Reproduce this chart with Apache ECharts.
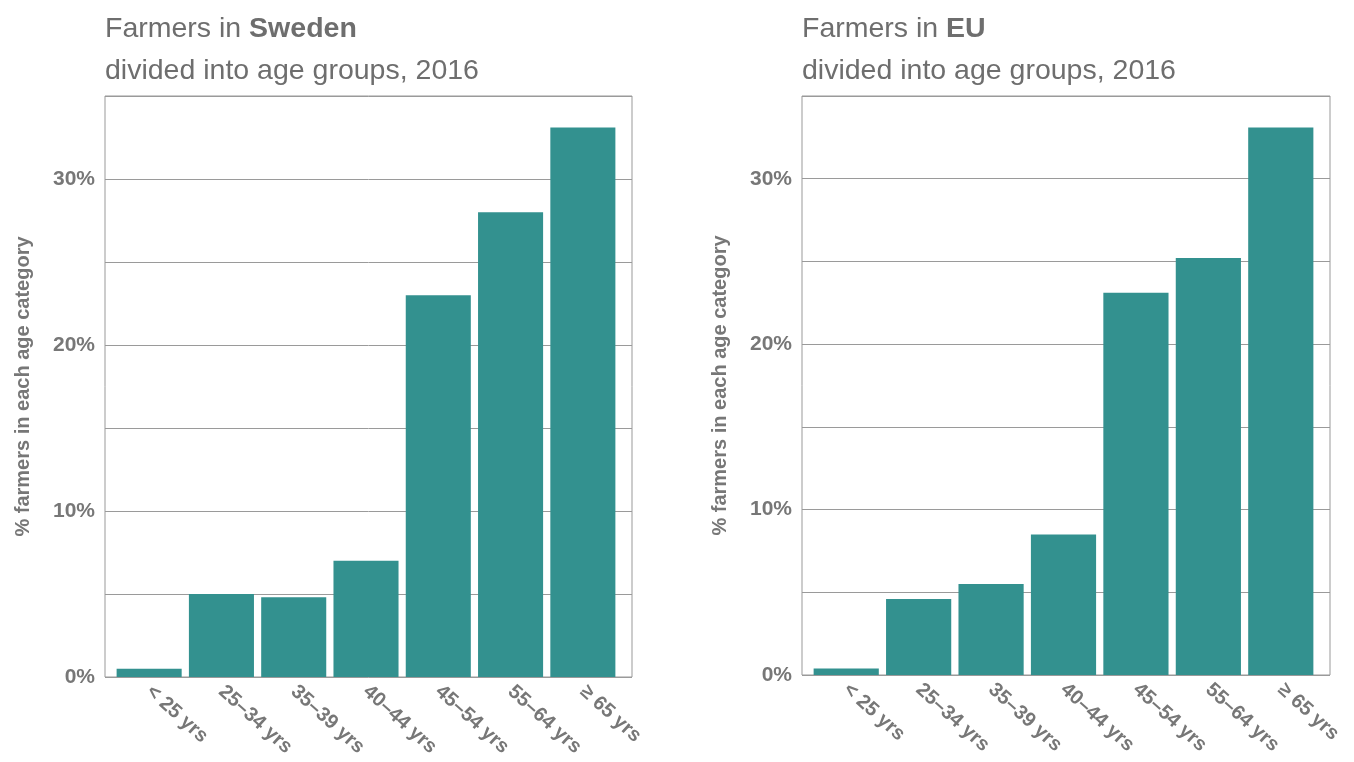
<!DOCTYPE html>
<html>
<head>
<meta charset="utf-8">
<script src="https://cdn.jsdelivr.net/npm/echarts@6/dist/echarts.min.js"></script>
<style>
html,body{margin:0;padding:0;background:#fff;}
#chart{width:1354px;height:762px;}
</style>
</head>
<body>
<div id="chart"></div>
<script>
const categories = ['< 25 yrs', '25–34 yrs', '35–39 yrs', '40–44 yrs', '45–54 yrs', '55–64 yrs', '≥ 65 yrs'];
const swedenValues = [0.5, 5.0, 4.8, 7.0, 23.0, 28.0, 33.1];
const euValues = [0.4, 4.6, 5.5, 8.5, 23.1, 25.2, 33.1];
const yMin = 0, yMax = 35, yStep = 5, yLabelStep = 10;
const regionNames = ['Sweden', 'EU'];
const subtitleText = 'divided into age groups, 2016';
const yAxisName = '% farmers in each age category';

const FONT = '"Liberation Sans", Arial, sans-serif';
const TEXT = '#6e6e6e';
const LABEL = '#777777';
const BAR = '#33918f';

const panels = [
  {outer: {left: 105, top: 96, width: 527, height: 581}, inner: {left: 113, top: 96, width: 506, height: 581}, title: 105, data: swedenValues},
  {outer: {left: 802, top: 96, width: 528, height: 579}, inner: {left: 810, top: 96, width: 507, height: 579}, title: 802, data: euValues}
];

const grid = [], xAxis = [], yAxis = [], series = [], title = [];
panels.forEach((p, i) => {
  const og = grid.length;
  grid.push(Object.assign({show: true, borderColor: '#999', borderWidth: 1, backgroundColor: 'transparent', z: 0}, p.outer));
  grid.push(Object.assign({show: false}, p.inner));
  xAxis.push({type: 'category', gridIndex: og, data: categories, show: false});
  yAxis.push({
    type: 'value', gridIndex: og, min: yMin, max: yMax, interval: yStep,
    name: yAxisName, nameLocation: 'middle', nameGap: 72,
    nameTextStyle: {color: LABEL, fontFamily: FONT, fontSize: 20, fontWeight: 'bold'},
    axisLine: {show: false}, axisTick: {show: false},
    axisLabel: {color: LABEL, fontFamily: FONT, fontSize: 21, fontWeight: 'bold', margin: 10,
      formatter: v => (v % yLabelStep === 0 ? v + '%' : '')},
    splitLine: {show: true, lineStyle: {color: '#9a9a9a', width: 1}}
  });
  xAxis.push({
    type: 'category', gridIndex: og + 1, data: categories,
    axisLine: {show: false}, axisTick: {show: false},
    axisLabel: {color: LABEL, fontFamily: FONT, fontSize: 20, fontWeight: 'bold', rotate: -42, margin: 12, interval: 0}
  });
  yAxis.push({type: 'value', gridIndex: og + 1, min: yMin, max: yMax, interval: yStep, show: false, splitLine: {show: false}});
  series.push({
    type: 'bar', xAxisIndex: og + 1, yAxisIndex: og + 1, data: p.data,
    barWidth: '90%', itemStyle: {color: BAR}, z: 2, silent: true
  });
  title.push({
    left: p.title - 5, top: 3,
    text: '{n|Farmers in }{b|' + regionNames[i] + '}\n{n|' + subtitleText + '}',
    textStyle: {
      fontWeight: 'normal',
      rich: {
        n: {fontFamily: FONT, fontSize: 28.5, color: TEXT, fontWeight: 'normal', lineHeight: 42},
        b: {fontFamily: FONT, fontSize: 28.5, color: TEXT, fontWeight: 'bold', lineHeight: 42}
      }
    }
  });
});

const chart = echarts.init(document.getElementById('chart'), null, {renderer: 'canvas'});
chart.setOption({animation: false, backgroundColor: '#fff', title, grid, xAxis, yAxis, series});
</script>
</body>
</html>
